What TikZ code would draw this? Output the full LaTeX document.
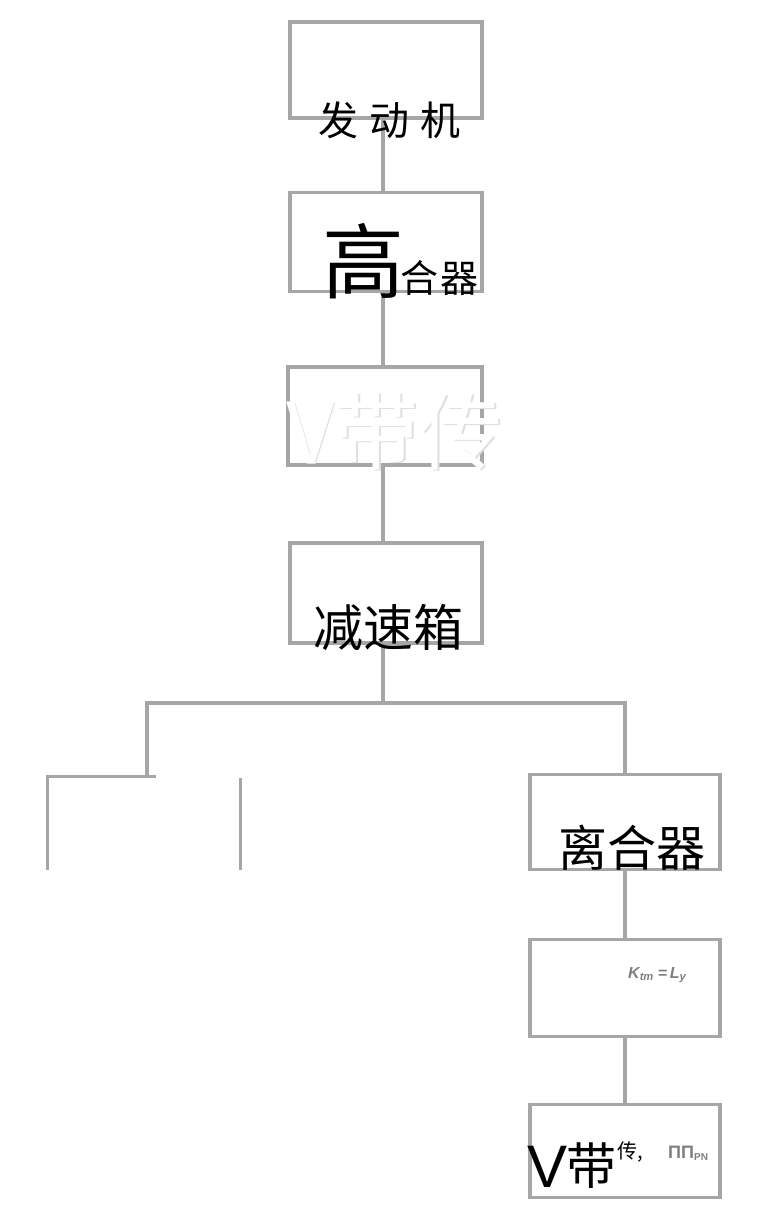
\documentclass[tikz,border=0pt]{standalone}
\usepackage{fontspec}
\newfontfamily\cjk{Noto Sans CJK SC}
\setmainfont{Liberation Sans}
\begin{document}
\begin{tikzpicture}[x=1pt,y=-1pt,
  blk/.style={draw=gray!70,line width=3.2pt,minimum width=#1,inner sep=0pt,rectangle},
  wire/.style={draw=gray!70,line width=3.2pt},
  lbl/.style={inner sep=0pt,anchor=base west,text=black},
]
\fill[fill=white] (0,0) rectangle (761,1209);
\useasboundingbox (0,0) rectangle (761,1209);
% boxes
\node[blk=192pt,minimum height=96pt] (b1) at (386,70) {};
\node[blk=192pt,minimum height=99pt] (b2) at (386,242) {};
\node[blk=194pt,minimum height=98pt] (b3) at (385,416) {};
\node[blk=192pt,minimum height=100pt] (b4) at (386,593) {};
\node[minimum width=192pt,minimum height=93pt,inner sep=0pt] (b5) at (144,823) {};
\node[blk=190pt,minimum height=95pt] (b6) at (625,822) {};
\node[blk=190pt,minimum height=97pt] (b7) at (625,988) {};
\node[blk=190pt,minimum height=93pt] (b8) at (625,1151) {};
% left box (open at the bottom)
\draw[wire] (b5.south west) -- (b5.north west) -- ([xshift=12pt]b5.north west -| b5.north);
\draw[wire] ([yshift=-2pt]b5.north east) -- (b5.south east);
% connectors
\coordinate (j) at (383,703);
\draw[wire] (383,118) -- (383,193);
\draw[wire] (383,292) -- (383,367);
\draw[wire] (383,465) -- (383,543);
\draw[wire] (383,643) -- (j);
\draw[wire] (147,777) |- (j) -| (625,775);
\draw[wire] (b6.south) -- (b7.north);
\draw[wire] (b7.south) -- (b8.north);
% labels
\node[lbl] (t1) at (318,136) {\cjk\fontsize{40}{40}\selectfont 发\hspace{11pt}动\hspace{11pt}机};
\node[lbl] (t2a) at (322,292) {\cjk\fontsize{82}{82}\selectfont 高};
\node[lbl] (t2b) at (400,292) {\cjk\fontsize{38}{38}\selectfont 合\hspace{2pt}器};
\node[lbl,text=gray!25] (t3s) at (287.5,464.5) {\cjk\fontsize{84}{84}\selectfont V带传};
\node[lbl,text=white] (t3) at (286,463) {\cjk\fontsize{84}{84}\selectfont V带传};
\node[lbl] (t4) at (313,646) {\cjk\fontsize{50}{50}\selectfont 减速箱};
\node[lbl] (t6) at (558,866) {\cjk\fontsize{49}{49}\selectfont 离合器};
\node[lbl,text=gray] (t7) at (628,978) {\fontsize{16}{16}\selectfont\bfseries\itshape K\textsubscript{tm}\hspace{4pt}=\,L\textsubscript{y}};
\node[lbl] (t8a) at (527,1187) {\fontsize{60}{60}\selectfont V};
\node[lbl] (t8b) at (566,1184) {\cjk\fontsize{50}{50}\selectfont 带};
\node[lbl] (t8c) at (617,1158) {\cjk\fontsize{20}{20}\selectfont 传,};
\node[lbl,text=gray] (t8d) at (668,1158) {\fontsize{18}{18}\selectfont\bfseries ΠΠ\textsubscript{\fontsize{10}{10}\selectfont PN}};
\end{tikzpicture}
\end{document}
